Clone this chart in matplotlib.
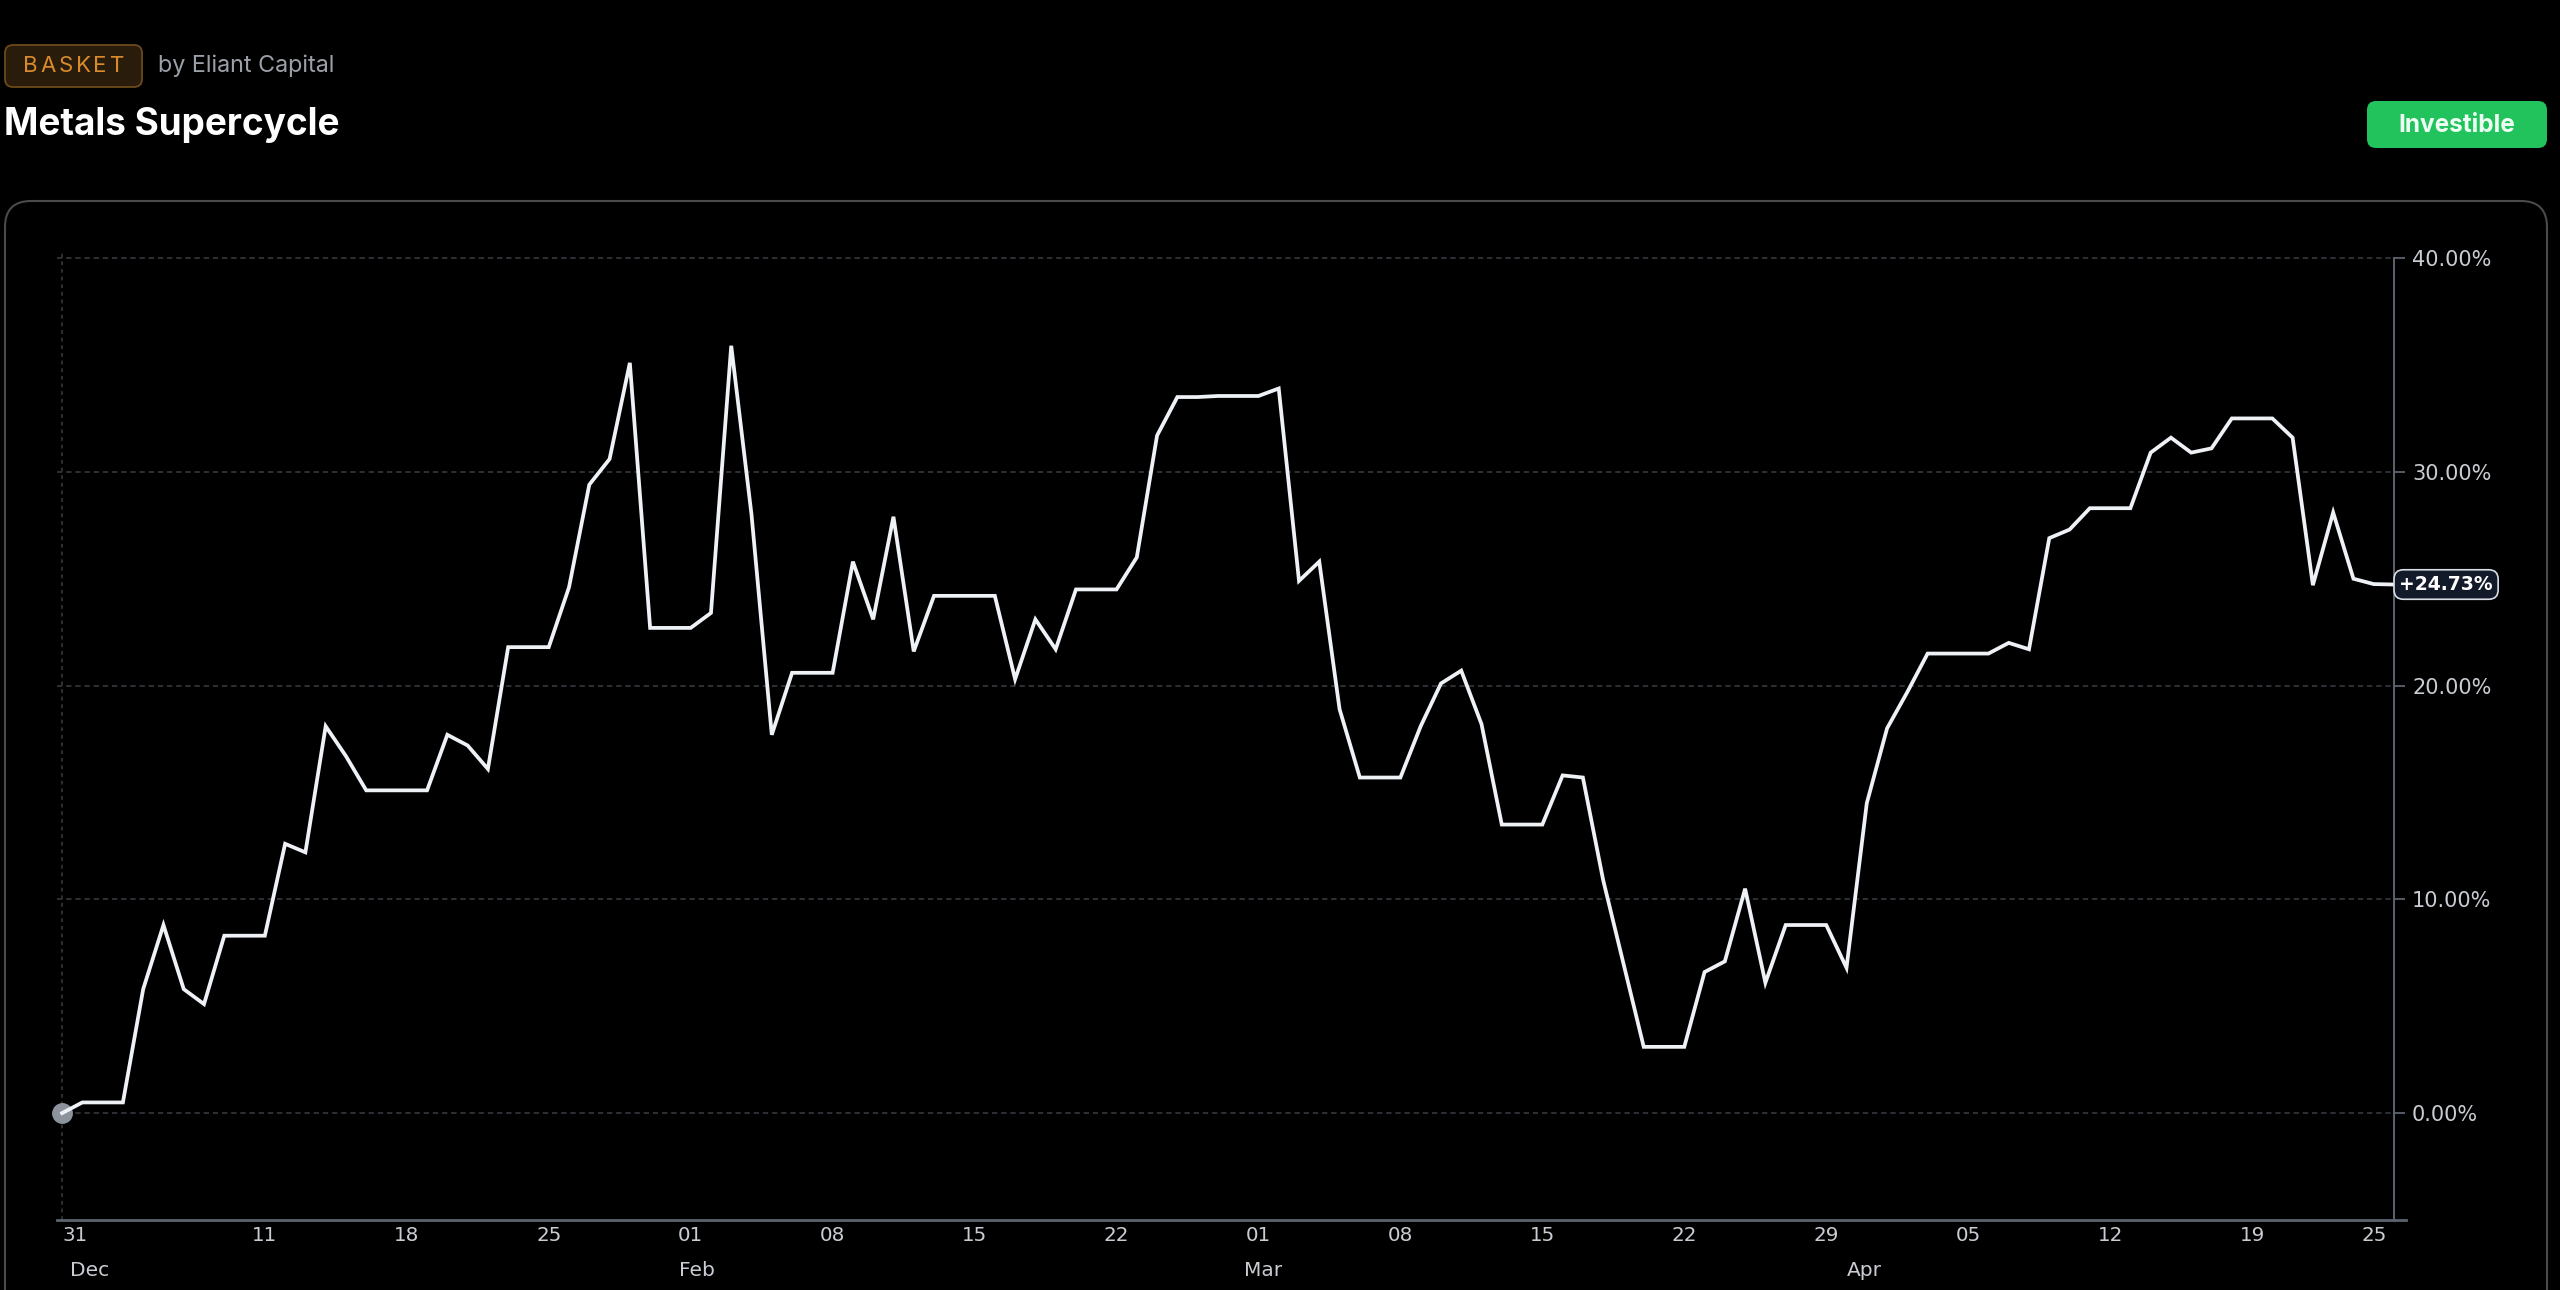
import numpy as np
import matplotlib
matplotlib.use("Agg")
import matplotlib.pyplot as plt
from matplotlib.patches import FancyBboxPatch
from matplotlib.transforms import IdentityTransform, blended_transform_factory

# basket return in % per calendar day, first point = start of the period
returns = [0.0, 0.5, 0.5, 0.5, 5.8, 8.8, 5.8, 5.1, 8.3, 8.3,
           8.3, 12.6, 12.2, 18.1, 16.7, 15.1, 15.1, 15.1, 15.1, 17.7,
           17.2, 16.1, 21.8, 21.8, 21.8, 24.6, 29.4, 30.6, 35.1, 22.7,
           22.7, 22.7, 23.4, 35.9, 28.0, 17.7, 20.6, 20.6, 20.6, 25.8,
           23.1, 27.9, 21.6, 24.2, 24.2, 24.2, 24.2, 20.3, 23.1, 21.7,
           24.5, 24.5, 24.5, 26.0, 31.7, 33.5, 33.5, 33.55, 33.55, 33.55,
           33.9, 24.9, 25.8, 18.9, 15.7, 15.7, 15.7, 18.1, 20.1, 20.7,
           18.2, 13.5, 13.5, 13.5, 15.8, 15.7, 10.9, 7.0, 3.1, 3.1,
           3.1, 6.6, 7.1, 10.5, 6.1, 8.8, 8.8, 8.8, 6.8, 14.5,
           18.0, 19.7, 21.5, 21.5, 21.5, 21.5, 22.0, 21.7, 26.9, 27.3,
           28.3, 28.3, 28.3, 30.9, 31.6, 30.9, 31.1, 32.5, 32.5, 32.5,
           31.6, 24.7, 28.1, 25.0, 24.75, 24.73]
last_label = "+24.73%"

xtick_days = [0, 10, 17, 24, 31, 38, 45, 52, 59, 66, 73, 80, 87, 94, 101, 108, 114]
xtick_labels = ["31", "11", "18", "25", "01", "08", "15", "22", "01", "08",
                "15", "22", "29", "05", "12", "19", "25"]
month_days = [0.4, 30.4, 58.3, 88.0]
month_labels = ["Dec", "Feb", "Mar", "Apr"]
yticks = [0, 10, 20, 30, 40]

W, H = 2560, 1290
BG = "#000000"
AXIS = "#5d636e"
GRID = "#3a3d43"
TXT = "#c9cdd3"
HEAD_FONT = ["Inter", "DejaVu Sans"]


def box(fig, x0, y0, x1, y1, r, face, edge, lw, z=1):
    # rounded box in pixel coords, y measured from the top
    p = FancyBboxPatch((x0, H - y1), x1 - x0, y1 - y0,
                       boxstyle=f"round,pad=0,rounding_size={r}",
                       transform=IdentityTransform(), facecolor=face,
                       edgecolor=edge, linewidth=lw, zorder=z)
    fig.add_artist(p)


def label(fig, x, y, s, **kw):
    return fig.text(x, H - y, s, transform=IdentityTransform(), **kw)


def spaced(fig, x, y, s, gap, **kw):
    # letter-spaced text, one glyph at a time
    r = fig.canvas.get_renderer()
    for ch in s:
        t = label(fig, x, y, ch, ha="left", va="center", **kw)
        x += t.get_window_extent(r).width + gap


def main():
    plt.rcParams['font.family'] = ['DejaVu Sans']
    fig = plt.figure(figsize=(W / 100, H / 100), dpi=100, facecolor=BG)

    # header
    box(fig, 5, 45, 142, 87, 8, "#2a1c0b", "#6b4a1c", 1.3)
    spaced(fig, 23, 66, "BASKET", 2.8, family=HEAD_FONT, fontsize=16,
           color="#d98b2c")
    label(fig, 158, 66, "by Eliant Capital", family=HEAD_FONT,
          fontsize=16.8, color="#9ba0a8", ha="left", va="center")
    label(fig, 4, 125, "Metals Supercycle", family=HEAD_FONT,
          fontsize=26.6, fontweight="bold", color="white", ha="left", va="center")
    box(fig, 2367, 101, 2547, 148, 9, "#22c35c", "none", 0, z=2)
    label(fig, 2457, 125, "Investible", family=HEAD_FONT, fontsize=17.5,
          fontweight="bold", color="#ecfff2", ha="center", va="center", zorder=3)

    # card around the chart
    box(fig, 5, 201, 2547, 1340, 26, "none", "#4a4a4a", 1.5, z=-1)

    ax = fig.add_axes([57 / W, 70 / H, 2337 / W, 968.3 / H])
    ax.set_facecolor("none")
    days = np.arange(len(returns))

    ax.plot(days, returns, color="#eef1f5", lw=2.7, zorder=3, solid_joinstyle="miter")
    ax.plot(days[0], returns[0], "o", ms=14, color="#8d939c", zorder=2, clip_on=False)

    ax.set_xlim(-0.25, 115)
    ax.set_ylim(-5, 40.3)

    for v in yticks:
        ax.axhline(v, color=GRID, lw=1.1, ls=(0, (3.5, 2.5)), zorder=1)
    ax.axvline(0, color=GRID, lw=1.1, ls=(0, (2.5, 2.5)), zorder=1)

    for side in ["top", "left"]:
        ax.spines[side].set_visible(False)
    ax.spines["right"].set_color(AXIS)
    ax.spines["right"].set_linewidth(1.4)
    ax.spines["right"].set_bounds(-5, 40)
    ax.spines["bottom"].set_color(AXIS)
    ax.spines["bottom"].set_linewidth(2)
    ax.plot([1, 1 + 12 / 2337], [0, 0], transform=ax.transAxes, color=AXIS,
            lw=2, clip_on=False)

    ax.yaxis.tick_right()
    ax.set_yticks(yticks)
    ax.set_yticklabels([f"{v:.2f}%" for v in yticks])
    ax.tick_params(axis="y", length=8, width=1.3, color=AXIS, pad=5,
                   labelsize=15, labelcolor=TXT)

    ax.set_xticks(xtick_days)
    ax.set_xticklabels(xtick_labels)
    ax.tick_params(axis="x", length=0, pad=4, labelsize=14.3, labelcolor=TXT)
    ax.get_xticklabels()[0].set_ha("left")

    tr = blended_transform_factory(ax.transData, IdentityTransform())
    for d, m in zip(month_days, month_labels):
        ax.text(d, H - 1270, m, transform=tr, ha="left", va="center",
                fontsize=14.5, color=TXT, clip_on=False)

    ax.annotate(last_label, xy=(1, returns[-1]), xycoords=("axes fraction", "data"),
                xytext=(3.8, 0), textcoords="offset points", ha="left", va="center",
                fontsize=13.5, fontweight="bold", color="white", annotation_clip=False,
                bbox=dict(boxstyle="round,pad=0.28,rounding_size=0.5",
                          facecolor="#131b2b", edgecolor="#d8dde5", linewidth=1.2),
                zorder=5)

    fig.savefig("out.png", dpi=100, facecolor=BG)


if __name__ == "__main__":
    main()
